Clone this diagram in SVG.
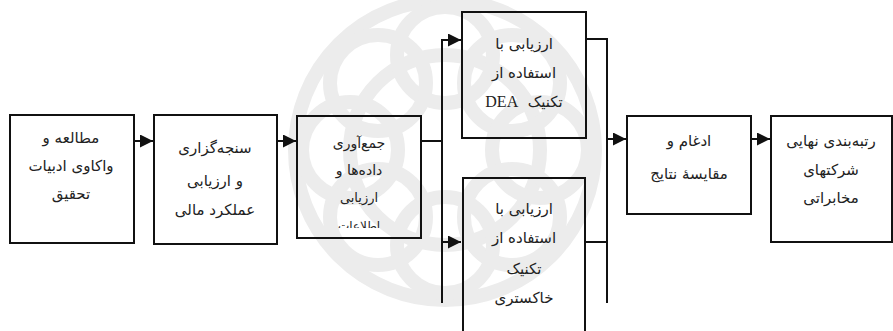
<svg xmlns="http://www.w3.org/2000/svg" width="893" height="331" viewBox="0 0 893 331">
<style>
.box{fill:none;stroke:#111;stroke-width:2}
.ln{fill:none;stroke:#111;stroke-width:2}
.wm{fill:none;stroke:#ececec;stroke-width:14}
text{font-family:"DejaVu Sans",sans-serif;font-size:15px;fill:#222;text-anchor:middle;direction:rtl}
text tspan.en{font-family:"Liberation Serif",serif;font-size:16px}
</style>
<defs>
<marker id="ar" viewBox="0 0 10 10" refX="10" refY="5" markerWidth="15" markerHeight="13" markerUnits="userSpaceOnUse" orient="auto">
<path d="M0,0 L10,5 L0,10 Z" fill="#111"/>
</marker>
<clipPath id="c3"><rect x="297" y="116" width="124" height="112"/></clipPath>
</defs>
<rect width="893" height="331" fill="#fff"/>
<g id="watermark">
<circle class="wm" cx="445" cy="150" r="150"/>
<circle class="wm" cx="445" cy="150" r="95"/>
<circle class="wm" cx="445" cy="55" r="48"/>
<circle class="wm" cx="512" cy="83" r="48"/>
<circle class="wm" cx="540" cy="150" r="48"/>
<circle class="wm" cx="512" cy="217" r="48"/>
<circle class="wm" cx="378" cy="217" r="48"/>
<circle class="wm" cx="350" cy="150" r="48"/>
<circle class="wm" cx="378" cy="83" r="48"/>
<circle class="wm" cx="445" cy="245" r="48"/>
</g>
<g id="connectors">
<line class="ln" x1="134" y1="141" x2="153" y2="141" marker-end="url(#ar)"/>
<line class="ln" x1="277" y1="141" x2="296" y2="141" marker-end="url(#ar)"/>
<polyline class="ln" points="421,141 442,141"/>
<line class="ln" x1="442" y1="39" x2="442" y2="303"/>
<line class="ln" x1="441" y1="40" x2="461" y2="40" marker-end="url(#ar)"/>
<line class="ln" x1="442" y1="242" x2="461" y2="242" marker-end="url(#ar)"/>
<polyline class="ln" points="586,39 607,39"/>
<polyline class="ln" points="586,242 607,242"/>
<line class="ln" x1="607" y1="38" x2="607" y2="303"/>
<line class="ln" x1="607" y1="139" x2="626" y2="139" marker-end="url(#ar)"/>
<line class="ln" x1="751" y1="139" x2="770" y2="139" marker-end="url(#ar)"/>
</g>
<g id="n1">
<rect class="box" x="10" y="115" width="124" height="128"/>
<text x="71" y="143">مطالعه و</text>
<text x="71" y="171">واکاوی ادبیات</text>
<text x="71" y="199">تحقیق</text>
</g>
<g id="n2">
<rect class="box" x="154" y="115" width="123" height="129"/>
<text x="215" y="153">سنجه&#x200C;گزاری</text>
<text x="215" y="186">و ارزیابی</text>
<text x="215" y="215">عملکرد مالی</text>
</g>
<g id="n3">
<rect class="box" x="297" y="116" width="124" height="122"/>
<g clip-path="url(#c3)">
<text x="359" y="148" style="font-size:14px">جمع&#x200C;آوری</text>
<text x="359" y="175" style="font-size:14px">داده&#x200C;ها و</text>
<text x="359" y="202" style="font-size:13px">ارزیابی</text>
<text x="359" y="230" style="font-size:12px">اطلاعات</text>
</g>
</g>
<g id="n4">
<rect class="box" x="462" y="12" width="124" height="126"/>
<text x="524" y="49">ارزیابی با</text>
<text x="524" y="78">استفاده از</text>
<text x="524" y="107">تکنیک&#xA0;&#xA0;<tspan class="en" font-family="Liberation Serif, serif">DEA</tspan></text>
</g>
<g id="n5">
<path class="box" d="M463,335 V178 H585 V335"/>
<text x="524" y="214">ارزیابی با</text>
<text x="524" y="243">استفاده از</text>
<text x="524" y="274">تکنیک</text>
<text x="524" y="303">خاکستری</text>
</g>
<g id="n6">
<rect class="box" x="627" y="116" width="124" height="98"/>
<text x="689" y="146">ادغام و</text>
<text x="689" y="179">مقایسهٔ نتایج</text>
</g>
<g id="n7">
<rect class="box" x="771" y="116" width="121" height="126"/>
<text x="831" y="146">رتبه&#x200C;بندی نهایی</text>
<text x="831" y="175">شرکتهای</text>
<text x="831" y="203">مخابراتی</text>
</g>
</svg>
